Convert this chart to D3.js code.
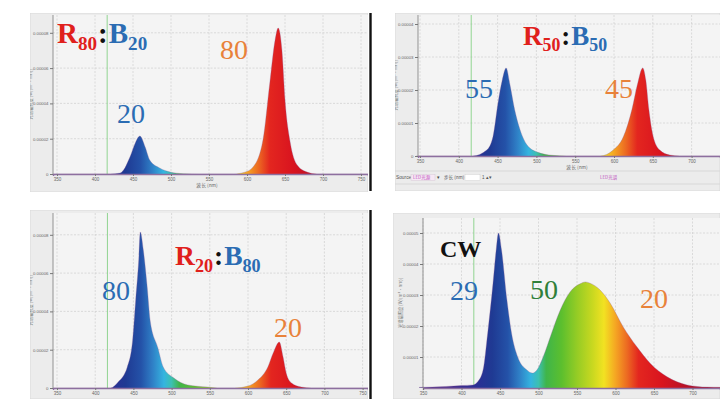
<!DOCTYPE html>
<html><head><meta charset="utf-8">
<script src="https://cdn.jsdelivr.net/npm/d3@7"></script>
<style>html,body{margin:0;padding:0;background:#fff;} svg{display:block} .serif{font-family:"Liberation Serif","DejaVu Serif","Times New Roman",serif;}</style>
</head><body>
<svg id="c" width="720" height="399"></svg>
<script>
// ---------------- DATA ----------------
const xTickNm = [350,400,450,500,550,600,650,700,750];
const xTickLabels = ["350","400","450","500","550","600","650","700","750"];
const markerNm = 416;

// Panel 1  R80:B20
const p1Wl  = [345,380,420,433,446,453,459,466,472,485,499,516,540,582,597,608,621,630,637,641,646,650,657,666,679,692,720,780];
const p1Val = [0,0,0,0.05,0.96,1.76,2.15,1.53,0.79,0.34,0.11,0.02,0,0,0.1,0.4,1.93,5.16,7.6,8.27,7.0,4.2,1.76,0.51,0.11,0,0,0];
const p1YTicks = [0,2,4,6,8];
const p1YLabels = ["0","0.00002","0.00004","0.00006","0.00008"];

// Panel 2  R50:B50
const p2Wl  = [345,380,418,436,444,450.5,456,461,466,472,479,488,501,521,539,560,582,599,612,623,630,637,641,645,650,659,672,685,720,780];
const p2Val = [0,0,0,0.18,0.58,1.6,2.3,2.67,2.15,1.4,0.79,0.33,0.12,0.02,0,0,0,0.18,0.58,1.4,2.15,2.67,2.3,1.4,0.64,0.18,0.03,0,0,0];
const p2YTicks = [0,1,2,3,4];
const p2YLabels = ["0","0.00001","0.00002","0.00003","0.00004"];

// Panel 3  R20:B80
const p3Wl  = [345,380,420,430,442,449,453,457,459,463,468,472,482,489,503,521,547,560,582,600,613,626,633,641,646,650,657,670,683,720,780];
const p3Val = [0,0,0,0.31,1.1,2.5,4.6,6.7,8.15,7.2,5.3,3.5,2.1,1.1,0.52,0.16,0.05,0,0,0.1,0.42,1.1,1.83,2.4,1.6,0.78,0.26,0.05,0,0,0];
const p3YTicks = [0,2,4,6,8];
const p3YLabels = ["0","0.00002","0.00004","0.00006","0.00008"];

// Panel 4  CW
const p4Wl  = [345,380,400,415,421,428,434,441,445,448,452,459,465,473,485,492,498,506,517,528,541,554,561,567,580,593,610,628,645,667,693,719,780];
const p4Val = [0.02,0.05,0.08,0.1,0.2,0.58,1.77,3.4,4.45,5.0,4.45,2.84,1.77,1.0,0.58,0.48,0.58,1.0,1.77,2.5,3.1,3.36,3.42,3.38,3.16,2.74,1.97,1.32,0.8,0.36,0.1,0.03,0.01];
const p4YTicks = [1,2,3,4,5];
const p4YLabels = ["0.00001","0.00002","0.00003","0.00004","0.00005"];

// spectrum colour stops (style)
const specNm  = [380,420,440,460,475,490,500,510,530,550,570,585,600,615,630,660,700,780];
const specCol = ["#4b2c8a","#2b2f95","#1f3a93","#2452a8","#2f7fc6","#35b4e0","#3cc0b0","#3fb54a","#5cbf2e","#95cc25","#c8d820","#f2e222","#f5a623","#ec6a22","#e3261f","#d9141f","#b01028","#901030"];

// ---------------- DRAW ----------------
const svg = d3.select("#c");
const defs = svg.append("defs");
const RED="#e0201c", BLUE="#2b6cb3", ORANGE="#e8823a", GREEN="#2f7f3a";

function panel(cfg){
  const id = cfg.id;
  defs.append("clipPath").attr("id","clip"+id).append("rect")
    .attr("x",cfg.fx).attr("y",cfg.fy).attr("width",cfg.fw).attr("height",cfg.fh);
  const g = svg.append("g").attr("clip-path",`url(#clip${id})`);
  g.append("rect").attr("x",cfg.fx).attr("y",cfg.fy).attr("width",cfg.fw).attr("height",cfg.fh)
    .attr("fill","#ececec").attr("stroke","#d6d6d6").attr("stroke-width",0.8);
  g.append("rect").attr("x",cfg.left).attr("y",cfg.top).attr("width",cfg.right-cfg.left).attr("height",cfg.y0-cfg.top)
    .attr("fill","#f4f4f4");

  const x0 = d3.scaleLinear().domain([350,400]).range([cfg.x350, cfg.x350+cfg.px50]);
  const x = d3.scaleLinear().domain([x0.invert(cfg.left), x0.invert(cfg.right)]).range([cfg.left,cfg.right]);
  const y = d3.scaleLinear().domain([0,1]).range([cfg.y0, cfg.y0-cfg.pxUnit]);
  const visNm = xTickNm.filter(d=>x(d)<=cfg.right-4);

  // grid
  g.append("g").selectAll("line").data(xTickNm).join("line")
    .attr("x1",d=>x(d)).attr("x2",d=>x(d)).attr("y1",cfg.top).attr("y2",cfg.y0)
    .attr("stroke","#cfcfcf").attr("stroke-width",0.7).attr("stroke-dasharray","2,1.5");
  g.append("g").selectAll("line").data(cfg.yTicks.filter(v=>v>0)).join("line")
    .attr("x1",cfg.left).attr("x2",cfg.right).attr("y1",d=>y(d)).attr("y2",d=>y(d))
    .attr("stroke","#cfcfcf").attr("stroke-width",0.7).attr("stroke-dasharray","2,1.5");

  // marker line
  g.append("line").attr("x1",x(markerNm)).attr("x2",x(markerNm)).attr("y1",cfg.top).attr("y2",cfg.y0)
    .attr("stroke","#86d086").attr("stroke-width",0.9);

  // gradient
  const grad = defs.append("linearGradient").attr("id","grad"+id).attr("gradientUnits","userSpaceOnUse")
    .attr("x1",x(specNm[0])).attr("x2",x(specNm[specNm.length-1])).attr("y1",0).attr("y2",0);
  const span = specNm[specNm.length-1]-specNm[0];
  specNm.forEach((nm,i)=>grad.append("stop").attr("offset",(nm-specNm[0])/span).attr("stop-color",specCol[i]));

  const area = d3.area().x((d,i)=>x(cfg.wl[i])).y0(y(0)).y1(d=>y(d)).curve(d3.curveMonotoneX);
  g.append("path").datum(cfg.val).attr("d",area).attr("fill",`url(#grad${id})`);
  const line = d3.line().x((d,i)=>x(cfg.wl[i])).y(d=>y(d)).curve(d3.curveMonotoneX);
  g.append("path").datum(cfg.val).attr("d",line).attr("fill","none").attr("stroke","#8e5f96").attr("stroke-width",0.6).attr("stroke-opacity",0.5);

  // axes
  const ax = g.append("g").attr("transform",`translate(0,${cfg.y0})`)
    .call(d3.axisBottom(x).tickValues(visNm).tickFormat(d=>xTickLabels[xTickNm.indexOf(d)]).tickSize(2).tickPadding(2));
  ax.select(".domain").attr("stroke","#8d6f9f").attr("stroke-width",1.4);
  ax.selectAll(".tick line").attr("stroke","#777");
  ax.selectAll("text").attr("font-size",4.5).attr("fill","#666").attr("font-family","'Liberation Sans',sans-serif");

  const ay = g.append("g").attr("transform",`translate(${cfg.left},0)`)
    .call(d3.axisLeft(y).tickValues(cfg.yTicks).tickFormat((d,i)=>cfg.yLabels[i]).tickSize(3).tickPadding(1.5));
  ay.select(".domain").attr("stroke","#888").attr("stroke-width",0.9);
  ay.selectAll(".tick line").attr("stroke","#777");
  ay.selectAll("text").attr("font-size",4.3).attr("fill","#666").attr("font-family","'Liberation Sans',sans-serif");
  ay.select(".domain").attr("d",`M0,${cfg.top}V${cfg.y0}`);

  // axis titles
  g.append("text").attr("transform",`translate(${cfg.left-21},${(cfg.top+cfg.y0)/2}) rotate(-90)`)
    .attr("text-anchor","middle").attr("font-size",4.3).attr("fill","#777")
    .attr("font-family","'Noto Sans CJK SC',sans-serif").text("光谱辐照度 [W/(m²·nm)]");
  if (cfg.xTitleX) {
    g.append("text").attr("x",cfg.xTitleX).attr("y",cfg.y0+13).attr("text-anchor","middle")
      .attr("font-size",4.8).attr("fill","#666").attr("font-family","'Noto Sans CJK SC',sans-serif").text("波长 (nm)");
  }
  return g;
}

function ratio(x0,y0,size,rv,bv){
  const t = svg.append("text").attr("class","serif").attr("x",x0).attr("y",y0).attr("font-weight","bold").attr("font-size",size);
  const sub = size*0.66, dy = size*0.24;
  t.append("tspan").attr("fill",RED).text("R");
  t.append("tspan").attr("fill",RED).attr("font-size",sub).attr("dy",dy).text(rv);
  t.append("tspan").attr("fill","#111").attr("dy",-dy).attr("dx",1).text(":");
  t.append("tspan").attr("fill",BLUE).attr("dx",1).text("B");
  t.append("tspan").attr("fill",BLUE).attr("font-size",sub).attr("dy",dy).text(bv);
}
function num(x0,y0,txt,col,size,bold){
  svg.append("text").attr("class","serif").attr("x",x0).attr("y",y0).attr("font-size",size||28)
    .attr("font-weight",bold?"bold":"normal").attr("fill",col).text(txt);
}

panel({id:1,fx:30,fy:13,fw:338,fh:179,left:53,right:368,top:15,y0:174,x350:57,px50:38,pxUnit:17.65,
  wl:p1Wl,val:p1Val,yTicks:p1YTicks,yLabels:p1YLabels,xTitleX:207});
const g2 = panel({id:2,fx:395,fy:13,fw:325,fh:178,left:418,right:720,top:15,y0:156,x350:420,px50:38.8,pxUnit:33,
  wl:p2Wl,val:p2Val,yTicks:p2YTicks,yLabels:p2YLabels,xTitleX:577});
panel({id:3,fx:30,fy:210,fw:338,fh:189,left:53,right:368,top:213,y0:388,x350:57,px50:38.2,pxUnit:19.15,
  wl:p3Wl,val:p3Val,yTicks:p3YTicks,yLabels:p3YLabels,xTitleX:null});
panel({id:4,fx:393,fy:213,fw:327,fh:186,left:423,right:720,top:218,y0:388,x350:423,px50:38.5,pxUnit:31,
  wl:p4Wl,val:p4Val,yTicks:p4YTicks,yLabels:p4YLabels,xTitleX:null});

// panel 2 toolbar
g2.append("line").attr("x1",395).attr("x2",720).attr("y1",171).attr("y2",171).attr("stroke","#d4d4d4").attr("stroke-width",0.8);
g2.append("line").attr("x1",395).attr("x2",720).attr("y1",184).attr("y2",184).attr("stroke","#d4d4d4").attr("stroke-width",0.8);
g2.append("text").attr("x",396).attr("y",179).attr("font-size",4.8).attr("fill","#555").attr("font-family","'Liberation Sans',sans-serif").text("Source");
g2.append("rect").attr("x",411).attr("y",174.5).attr("width",24).attr("height",6).attr("fill","#f6e8f4").attr("stroke","#cfc4cf").attr("stroke-width",0.4);
g2.append("text").attr("x",413).attr("y",179).attr("font-size",4.5).attr("fill","#c050c0").attr("font-family","'Noto Sans CJK SC',sans-serif").text("LED光源");
g2.append("text").attr("x",437).attr("y",179).attr("font-size",4.5).attr("fill","#444").text("▾");
g2.append("text").attr("x",444).attr("y",179).attr("font-size",4.6).attr("fill","#555").attr("font-family","'Noto Sans CJK SC',sans-serif").text("步长 (nm)");
g2.append("rect").attr("x",465).attr("y",174.5).attr("width",15).attr("height",6).attr("fill","#fff").attr("stroke","#c8c8c8").attr("stroke-width",0.4);
g2.append("text").attr("x",482).attr("y",179).attr("font-size",4.5).attr("fill","#555").attr("font-family","'Liberation Sans',sans-serif").text("1 ▴▾");
g2.append("text").attr("x",600).attr("y",179).attr("font-size",4.5).attr("fill","#c050c0").attr("font-family","'Noto Sans CJK SC',sans-serif").text("LED光谱");

// dividers
svg.append("line").attr("x1",370.5).attr("x2",370.5).attr("y1",13).attr("y2",191).attr("stroke","#111").attr("stroke-width",2.4);
svg.append("line").attr("x1",370.5).attr("x2",370.5).attr("y1",210).attr("y2",399).attr("stroke","#111").attr("stroke-width",2.4);

// annotations
ratio(57,43,29,"80","20");
num(220,59,"80",ORANGE);
num(117,123,"20",BLUE);

ratio(523,45,27,"50","50");
num(465,98,"55",BLUE);
num(605,98,"45",ORANGE);

ratio(175,265,27.5,"20","80");
num(102,300,"80",BLUE);
num(274,337,"20",ORANGE);

num(440,257,"CW","#111",24,true);
num(450,300,"29",BLUE);
num(530,299,"50",GREEN);
num(640,308,"20",ORANGE);
</script>
</body></html>
